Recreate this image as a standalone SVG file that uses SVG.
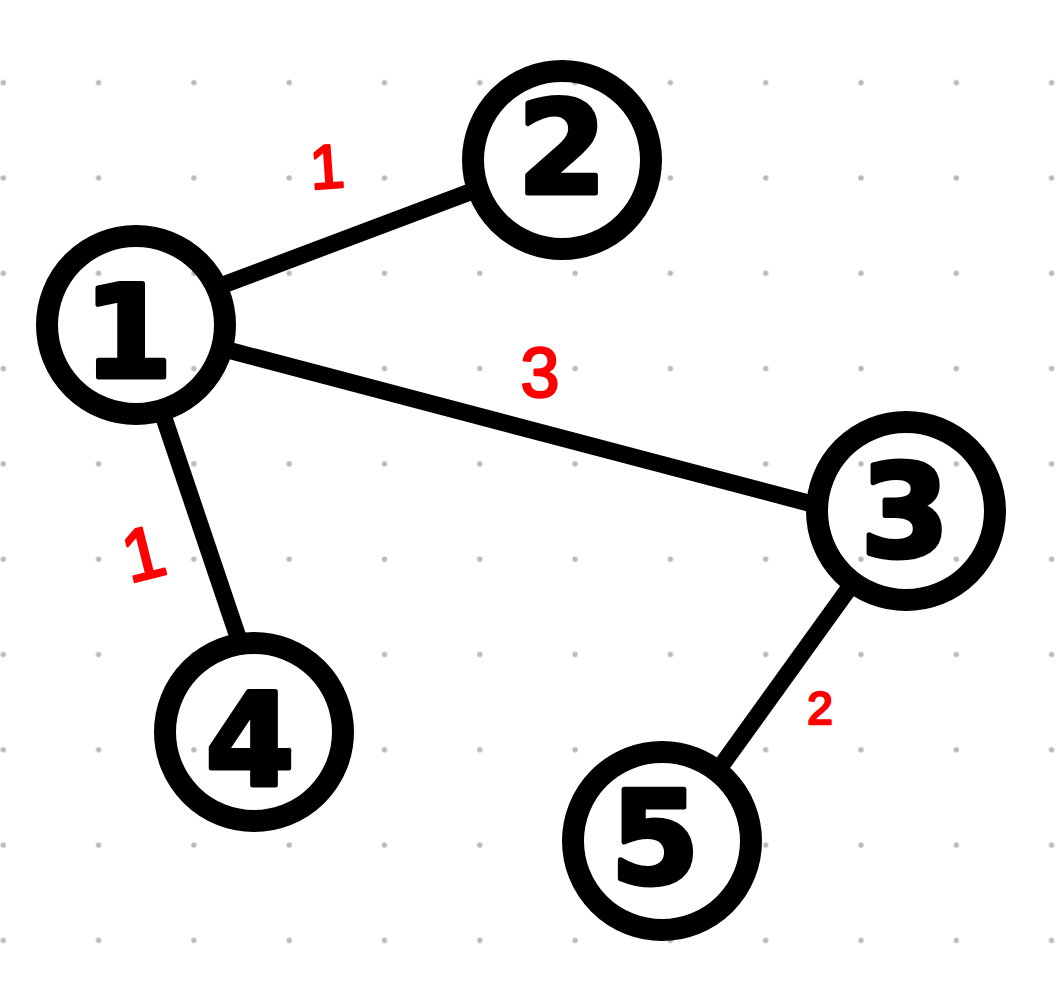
<svg xmlns="http://www.w3.org/2000/svg" width="1061" height="1000" viewBox="0 0 1061 1000">
  <style>
    .ring { fill: none; stroke: #000; stroke-width: 22; }
    .edge { stroke: #000; stroke-width: 17; stroke-linecap: butt; fill: none; }
    .num { font-family: "DejaVu Sans", "Liberation Sans", sans-serif; font-weight: bold; font-size: 128px; fill: #000; stroke: #000; stroke-width: 5; stroke-linejoin: round; text-anchor: middle; }
    .w { font-family: "Liberation Sans", "DejaVu Sans", sans-serif; fill: #ff0000; stroke: #ff0000; stroke-width: 2.5; stroke-linejoin: round; text-anchor: middle; }
  </style>
  <defs>
    <pattern id="dots" patternUnits="userSpaceOnUse" x="-44.35" y="35.05" width="95.3" height="95.3">
      <circle cx="47.65" cy="47.65" r="2.7" fill="#bababa"/>
    </pattern>
  </defs>
  <rect x="0" y="0" width="1061" height="1000" fill="#ffffff"/>
  <rect x="0" y="0" width="1061" height="1000" fill="url(#dots)"/>

  <g id="connectors">
    <line class="edge" x1="215" y1="288" x2="478" y2="189"/>
    <line class="edge" x1="224" y1="349" x2="816" y2="505"/>
    <line class="edge" x1="162" y1="412" x2="240" y2="643"/>
    <line class="edge" x1="855" y1="580" x2="716" y2="773"/>
    <text class="w" x="327" y="188" font-size="62" transform="rotate(-4 327 166)">1</text>
    <text class="w" x="540" y="397" font-size="70">3</text>
    <text class="w" x="143" y="579" font-size="74" transform="rotate(-14 143 552)">1</text>
    <text class="w" x="820" y="724" font-size="46">2</text>
  </g>

  <g id="node1">
    <circle class="ring" cx="136" cy="325" r="89"/>
    <text class="num" x="128" y="377">1</text>
  </g>
  <g id="node2">
    <circle class="ring" cx="562" cy="160" r="89"/>
    <text class="num" x="562" y="193">2</text>
  </g>
  <g id="node3">
    <circle class="ring" cx="906" cy="511" r="89"/>
    <text class="num" x="905" y="556">3</text>
  </g>
  <g id="node4">
    <circle class="ring" cx="254" cy="732" r="89"/>
    <text class="num" x="250" y="785">4</text>
  </g>
  <g id="node5">
    <circle class="ring" cx="662" cy="841" r="89"/>
    <text class="num" x="655" y="883">5</text>
  </g>
</svg>
